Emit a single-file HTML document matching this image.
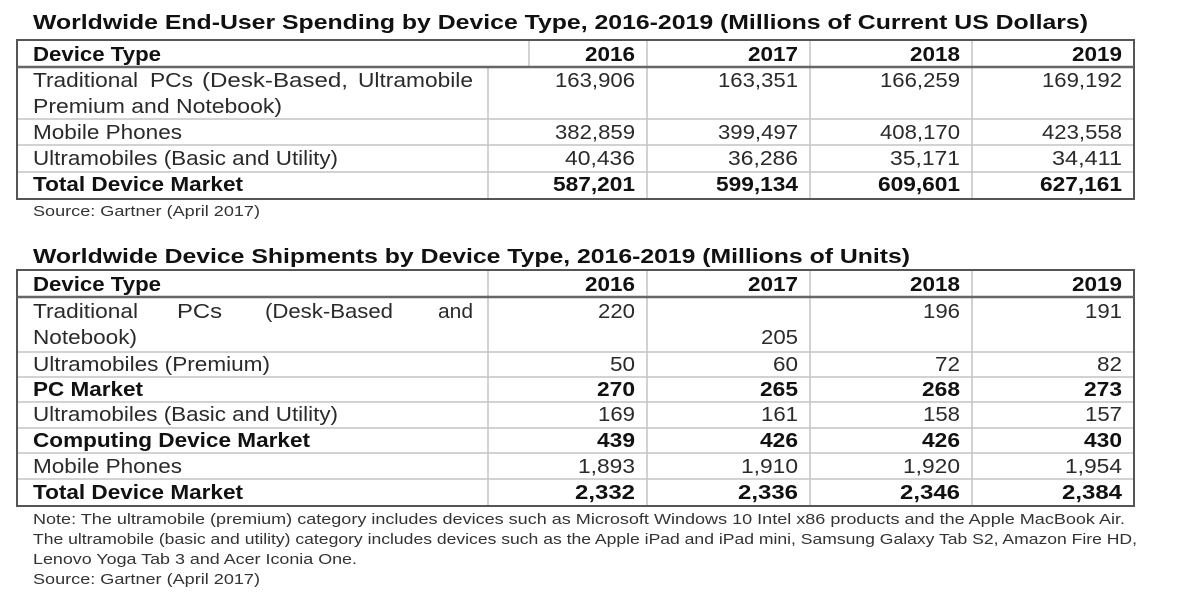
<!DOCTYPE html>
<html><head><meta charset="utf-8"><style>
html,body{margin:0;padding:0;background:#fff;}
svg{display:block;font-family:"Liberation Sans",Arial,sans-serif;}
.t{font-size:20px;fill:#2a2a2a;}
.b{font-size:20px;font-weight:bold;fill:#111;}
.h{font-size:20px;font-weight:bold;fill:#111;}
.n{font-size:15px;fill:#333;}
.r{text-anchor:end;}
</style></head><body>
<svg width="1200" height="600" viewBox="0 0 1200 600">
<rect width="1200" height="600" fill="#fff"/>
<text class="h" x="33" y="29" textLength="1055" lengthAdjust="spacingAndGlyphs">Worldwide End-User Spending by Device Type, 2016-2019 (Millions of Current US Dollars)</text>
<g stroke="#c4c4c4" stroke-width="1.5">
<line x1="18" y1="119" x2="1134" y2="119"/><line x1="18" y1="145" x2="1134" y2="145"/><line x1="18" y1="172" x2="1134" y2="172"/>
<line x1="488" y1="67" x2="488" y2="199"/><line x1="529" y1="40" x2="529" y2="67"/>
<line x1="647" y1="40" x2="647" y2="199"/><line x1="810" y1="40" x2="810" y2="199"/><line x1="972" y1="40" x2="972" y2="199"/>
</g>
<rect x="17" y="40" width="1117" height="159" fill="none" stroke="#555" stroke-width="2"/>
<line x1="17" y1="67" x2="1134" y2="67" stroke="#666" stroke-width="2.5"/>
<text class="b" x="33" y="61" textLength="128" lengthAdjust="spacingAndGlyphs">Device Type</text>
<text class="b r" x="635" y="61" textLength="50" lengthAdjust="spacingAndGlyphs">2016</text><text class="b r" x="798" y="61" textLength="50" lengthAdjust="spacingAndGlyphs">2017</text><text class="b r" x="960" y="61" textLength="50" lengthAdjust="spacingAndGlyphs">2018</text><text class="b r" x="1122" y="61" textLength="50" lengthAdjust="spacingAndGlyphs">2019</text>
<text class="t" x="33" y="87" textLength="105" lengthAdjust="spacingAndGlyphs">Traditional</text>
<text class="t" x="150" y="87" textLength="43" lengthAdjust="spacingAndGlyphs">PCs</text>
<text class="t" x="202" y="87" textLength="146" lengthAdjust="spacingAndGlyphs">(Desk-Based,</text>
<text class="t" x="358" y="87" textLength="115" lengthAdjust="spacingAndGlyphs">Ultramobile</text>
<text class="t" x="33" y="113" textLength="249" lengthAdjust="spacingAndGlyphs">Premium and Notebook)</text>
<text class="t r" x="635" y="87" textLength="80" lengthAdjust="spacingAndGlyphs">163,906</text><text class="t r" x="798" y="87" textLength="80" lengthAdjust="spacingAndGlyphs">163,351</text><text class="t r" x="960" y="87" textLength="80" lengthAdjust="spacingAndGlyphs">166,259</text><text class="t r" x="1122" y="87" textLength="80" lengthAdjust="spacingAndGlyphs">169,192</text>
<text class="t" x="33" y="139" textLength="149" lengthAdjust="spacingAndGlyphs">Mobile Phones</text>
<text class="t r" x="635" y="139" textLength="80" lengthAdjust="spacingAndGlyphs">382,859</text><text class="t r" x="798" y="139" textLength="80" lengthAdjust="spacingAndGlyphs">399,497</text><text class="t r" x="960" y="139" textLength="80" lengthAdjust="spacingAndGlyphs">408,170</text><text class="t r" x="1122" y="139" textLength="80" lengthAdjust="spacingAndGlyphs">423,558</text>
<text class="t" x="33" y="165" textLength="305" lengthAdjust="spacingAndGlyphs">Ultramobiles (Basic and Utility)</text>
<text class="t r" x="635" y="165" textLength="70" lengthAdjust="spacingAndGlyphs">40,436</text><text class="t r" x="798" y="165" textLength="70" lengthAdjust="spacingAndGlyphs">36,286</text><text class="t r" x="960" y="165" textLength="70" lengthAdjust="spacingAndGlyphs">35,171</text><text class="t r" x="1122" y="165" textLength="70" lengthAdjust="spacingAndGlyphs">34,411</text>
<text class="b" x="33" y="191" textLength="210" lengthAdjust="spacingAndGlyphs">Total Device Market</text>
<text class="b r" x="635" y="191" textLength="82" lengthAdjust="spacingAndGlyphs">587,201</text><text class="b r" x="798" y="191" textLength="82" lengthAdjust="spacingAndGlyphs">599,134</text><text class="b r" x="960" y="191" textLength="82" lengthAdjust="spacingAndGlyphs">609,601</text><text class="b r" x="1122" y="191" textLength="82" lengthAdjust="spacingAndGlyphs">627,161</text>
<text class="n" x="33" y="216" textLength="227" lengthAdjust="spacingAndGlyphs">Source: Gartner (April 2017)</text>

<text class="h" x="33" y="263" textLength="877" lengthAdjust="spacingAndGlyphs">Worldwide Device Shipments by Device Type, 2016-2019 (Millions of Units)</text>
<g stroke="#c4c4c4" stroke-width="1.5">
<line x1="18" y1="352" x2="1134" y2="352"/><line x1="18" y1="377" x2="1134" y2="377"/><line x1="18" y1="402" x2="1134" y2="402"/>
<line x1="18" y1="428" x2="1134" y2="428"/><line x1="18" y1="453" x2="1134" y2="453"/><line x1="18" y1="479" x2="1134" y2="479"/>
<line x1="488" y1="270" x2="488" y2="506"/>
<line x1="647" y1="270" x2="647" y2="506"/><line x1="810" y1="270" x2="810" y2="506"/><line x1="972" y1="270" x2="972" y2="506"/>
</g>
<rect x="17" y="270" width="1117" height="236" fill="none" stroke="#555" stroke-width="2"/>
<line x1="17" y1="297" x2="1134" y2="297" stroke="#666" stroke-width="2.5"/>
<text class="b" x="33" y="291" textLength="128" lengthAdjust="spacingAndGlyphs">Device Type</text>
<text class="b r" x="635" y="291" textLength="50" lengthAdjust="spacingAndGlyphs">2016</text><text class="b r" x="798" y="291" textLength="50" lengthAdjust="spacingAndGlyphs">2017</text><text class="b r" x="960" y="291" textLength="50" lengthAdjust="spacingAndGlyphs">2018</text><text class="b r" x="1122" y="291" textLength="50" lengthAdjust="spacingAndGlyphs">2019</text>
<text class="t" x="33" y="318" textLength="105" lengthAdjust="spacingAndGlyphs">Traditional</text>
<text class="t" x="177" y="318" textLength="45" lengthAdjust="spacingAndGlyphs">PCs</text>
<text class="t" x="265" y="318" textLength="128" lengthAdjust="spacingAndGlyphs">(Desk-Based</text>
<text class="t" x="438" y="318" textLength="35" lengthAdjust="spacingAndGlyphs">and</text>
<text class="t" x="33" y="344" textLength="104" lengthAdjust="spacingAndGlyphs">Notebook)</text>
<text class="t r" x="635" y="318" textLength="37" lengthAdjust="spacingAndGlyphs">220</text><text class="t r" x="798" y="344" textLength="37" lengthAdjust="spacingAndGlyphs">205</text><text class="t r" x="960" y="318" textLength="37" lengthAdjust="spacingAndGlyphs">196</text><text class="t r" x="1122" y="318" textLength="37" lengthAdjust="spacingAndGlyphs">191</text>
<text class="t" x="33" y="371" textLength="237" lengthAdjust="spacingAndGlyphs">Ultramobiles (Premium)</text>
<text class="t r" x="635" y="371" textLength="25" lengthAdjust="spacingAndGlyphs">50</text><text class="t r" x="798" y="371" textLength="25" lengthAdjust="spacingAndGlyphs">60</text><text class="t r" x="960" y="371" textLength="25" lengthAdjust="spacingAndGlyphs">72</text><text class="t r" x="1122" y="371" textLength="25" lengthAdjust="spacingAndGlyphs">82</text>
<text class="b" x="33" y="396" textLength="110" lengthAdjust="spacingAndGlyphs">PC Market</text>
<text class="b r" x="635" y="396" textLength="38" lengthAdjust="spacingAndGlyphs">270</text><text class="b r" x="798" y="396" textLength="38" lengthAdjust="spacingAndGlyphs">265</text><text class="b r" x="960" y="396" textLength="38" lengthAdjust="spacingAndGlyphs">268</text><text class="b r" x="1122" y="396" textLength="38" lengthAdjust="spacingAndGlyphs">273</text>
<text class="t" x="33" y="421" textLength="305" lengthAdjust="spacingAndGlyphs">Ultramobiles (Basic and Utility)</text>
<text class="t r" x="635" y="421" textLength="37" lengthAdjust="spacingAndGlyphs">169</text><text class="t r" x="798" y="421" textLength="37" lengthAdjust="spacingAndGlyphs">161</text><text class="t r" x="960" y="421" textLength="37" lengthAdjust="spacingAndGlyphs">158</text><text class="t r" x="1122" y="421" textLength="37" lengthAdjust="spacingAndGlyphs">157</text>
<text class="b" x="33" y="447" textLength="277" lengthAdjust="spacingAndGlyphs">Computing Device Market</text>
<text class="b r" x="635" y="447" textLength="38" lengthAdjust="spacingAndGlyphs">439</text><text class="b r" x="798" y="447" textLength="38" lengthAdjust="spacingAndGlyphs">426</text><text class="b r" x="960" y="447" textLength="38" lengthAdjust="spacingAndGlyphs">426</text><text class="b r" x="1122" y="447" textLength="38" lengthAdjust="spacingAndGlyphs">430</text>
<text class="t" x="33" y="473" textLength="149" lengthAdjust="spacingAndGlyphs">Mobile Phones</text>
<text class="t r" x="635" y="473" textLength="57" lengthAdjust="spacingAndGlyphs">1,893</text><text class="t r" x="798" y="473" textLength="57" lengthAdjust="spacingAndGlyphs">1,910</text><text class="t r" x="960" y="473" textLength="57" lengthAdjust="spacingAndGlyphs">1,920</text><text class="t r" x="1122" y="473" textLength="57" lengthAdjust="spacingAndGlyphs">1,954</text>
<text class="b" x="33" y="499" textLength="210" lengthAdjust="spacingAndGlyphs">Total Device Market</text>
<text class="b r" x="635" y="499" textLength="60" lengthAdjust="spacingAndGlyphs">2,332</text><text class="b r" x="798" y="499" textLength="60" lengthAdjust="spacingAndGlyphs">2,336</text><text class="b r" x="960" y="499" textLength="60" lengthAdjust="spacingAndGlyphs">2,346</text><text class="b r" x="1122" y="499" textLength="60" lengthAdjust="spacingAndGlyphs">2,384</text>
<text class="n" x="33" y="524" textLength="1092" lengthAdjust="spacingAndGlyphs">Note: The ultramobile (premium) category includes devices such as Microsoft Windows 10 Intel x86 products and the Apple MacBook Air.</text>
<text class="n" x="33" y="544" textLength="1104" lengthAdjust="spacingAndGlyphs">The ultramobile (basic and utility) category includes devices such as the Apple iPad and iPad mini, Samsung Galaxy Tab S2, Amazon Fire HD,</text>
<text class="n" x="33" y="564" textLength="324" lengthAdjust="spacingAndGlyphs">Lenovo Yoga Tab 3 and Acer Iconia One.</text>
<text class="n" x="33" y="584" textLength="227" lengthAdjust="spacingAndGlyphs">Source: Gartner (April 2017)</text>
</svg>
</body></html>
